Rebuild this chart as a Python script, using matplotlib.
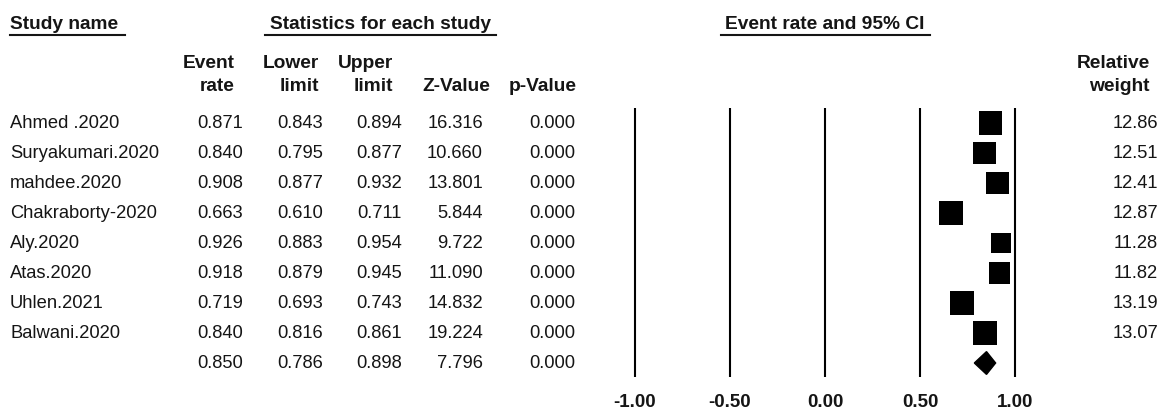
import matplotlib.pyplot as plt
from matplotlib.patches import Polygon

plt.rcParams['font.family'] = ['Liberation Sans', 'DejaVu Sans']

studies = ['Ahmed .2020', 'Suryakumari.2020', 'mahdee.2020', 'Chakraborty-2020',
           'Aly.2020', 'Atas.2020', 'Uhlen.2021', 'Balwani.2020']
event_rate = [0.871, 0.840, 0.908, 0.663, 0.926, 0.918, 0.719, 0.840]
lower = [0.843, 0.795, 0.877, 0.610, 0.883, 0.879, 0.693, 0.816]
upper = [0.894, 0.877, 0.932, 0.711, 0.954, 0.945, 0.743, 0.861]
z_value = [16.316, 10.660, 13.801, 5.844, 9.722, 11.090, 14.832, 19.224]
p_value = [0.000] * 8
weights = [12.86, 12.51, 12.41, 12.87, 11.28, 11.82, 13.19, 13.07]

pooled = dict(rate=0.850, lo=0.786, hi=0.898, z=7.796, p=0.000)
ticks = [-1.00, -0.50, 0.00, 0.50, 1.00]

W, H = 1166, 412
fig = plt.figure(figsize=(W / 100, H / 100), dpi=100)

# text layer in pixel coordinates
tx = fig.add_axes([0, 0, 1, 1])
tx.set_xlim(0, W)
tx.set_ylim(H, 0)
tx.axis('off')

# forest layer: x in effect units, y in row units
ax = fig.add_axes([0, 0, 1, 1], facecolor='none')
x0, ppu = 825.0, 190.0          # pixel of 0 and pixels per unit
row0, rowh = 123.0, 30.0
ax.set_xlim(-x0 / ppu, (W - x0) / ppu)
ax.set_ylim((H - row0) / rowh, -row0 / rowh)
ax.axis('off')

col = '#151515'
fs = 13.2
hfs = 13.8

def header(x, y, s, ha):
    tx.text(x, y, s, ha=ha, va='center', fontsize=hfs, fontweight='bold', color=col)

# section headers (underlined)
header(10, 24, 'Study name', 'left')
header(380, 24, 'Statistics for each study', 'center')
header(825, 24, 'Event rate and 95% CI', 'center')
tx.plot([10, 125], [35, 35], color=col, lw=1.5)
tx.plot([265, 496], [35, 35], color=col, lw=1.5)
tx.plot([721, 930], [35, 35], color=col, lw=1.5)

# column headers
col_right = [235, 319, 393, 490, 577]
col_heads = [('Event', 'rate'), ('Lower', 'limit'), ('Upper', 'limit'), ('', 'Z-Value'), ('', 'p-Value')]
for xr, (a, b) in zip(col_right, col_heads):
    if a:
        header(xr, 63, a, 'right')
    header(xr, 86, b, 'right')
header(1150, 63, 'Relative', 'right')
header(1150, 86, 'weight', 'right')

val_right = [243, 323, 402, 483, 575]
for i, name in enumerate(studies):
    y = row0 + rowh * i
    tx.text(10, y, name, ha='left', va='center', fontsize=fs, color=col)
    vals = ['%.3f' % event_rate[i], '%.3f' % lower[i], '%.3f' % upper[i],
            '%.3f' % z_value[i], '%.3f' % p_value[i]]
    for xr, v in zip(val_right, vals):
        tx.text(xr, y, v, ha='right', va='center', fontsize=fs, color=col)
    tx.text(1158, y, '%.2f' % weights[i], ha='right', va='center', fontsize=fs, color=col)

y = row0 + rowh * len(studies)
vals = ['%.3f' % pooled['rate'], '%.3f' % pooled['lo'], '%.3f' % pooled['hi'],
        '%.3f' % pooled['z'], '%.3f' % pooled['p']]
for xr, v in zip(val_right, vals):
    tx.text(xr, y, v, ha='right', va='center', fontsize=fs, color=col)

# reference lines and their labels
n = len(studies)
ax.vlines(ticks, -0.5, n + 0.47, color='black', lw=1.5)
for t in ticks:
    ax.text(t, n + 1.3, '%.2f' % t, ha='center', va='center', fontsize=13.5,
            fontweight='bold', color=col)

# study CIs and weighted squares
rows = list(range(n))
ax.hlines(rows, lower, upper, color='black', lw=1.2)
sizes = [(1.83 * w * 0.72) ** 2 for w in weights]
ax.scatter(event_rate, rows, s=sizes, marker='s', color='black', linewidths=0, zorder=3)

# pooled diamond
d = Polygon([(pooled['lo'], n), (pooled['rate'], n - 0.38),
             (pooled['hi'], n), (pooled['rate'], n + 0.38)],
            closed=True, color='black')
ax.add_patch(d)

fig.savefig('out.png', dpi=100)
